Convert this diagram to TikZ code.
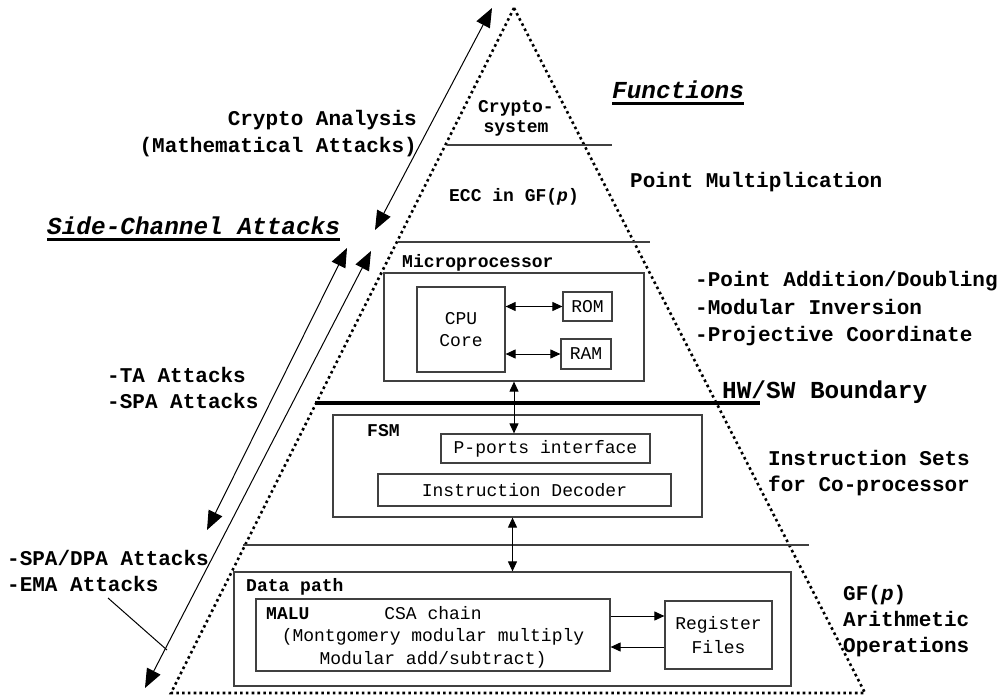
\documentclass[tikz,border=0pt]{standalone}
\usepackage{fontspec}
\setmonofont{Liberation Mono}
\usetikzlibrary{arrows.meta}
\newcommand\myBig{\fontsize{21}{27}\selectfont\ttfamily\bfseries}
\newcommand\myHuge{\fontsize{24.4}{30}\selectfont\ttfamily\bfseries}
\newcommand\myMid{\fontsize{18}{20}\selectfont\ttfamily\bfseries}
\newcommand\myReg{\fontsize{18}{22.5}\selectfont\ttfamily}
\begin{document}
\begin{tikzpicture}[x=1pt,y=-1pt,
  big/.style={inner sep=0pt,font=\myBig,anchor=base west},
  huge/.style={inner sep=0pt,font=\myHuge,anchor=base west},
  mid/.style={inner sep=0pt,font=\myMid,anchor=base west},
  box/.style={draw=black!75,line width=1.2pt,inner sep=0pt,font=\myReg,align=center},
  layer/.style={draw=black!75,line width=1.2pt},
  dotline/.style={line width=2.6pt,dash pattern=on 2.6pt off 3.2pt},
  bigarr/.style={line width=1pt,{Triangle[length=19pt,width=15pt]}-{Triangle[length=19pt,width=15pt]}},
  smallarr/.style={line width=1pt,{Triangle[length=10pt,width=9pt]}-{Triangle[length=10pt,width=9pt]}},
  onearr/.style={line width=1pt,-{Triangle[length=10pt,width=9pt]}},
  uline/.style={line width=3pt}]
\useasboundingbox (0,0) rectangle (1004,695);

% pyramid
\coordinate (apex) at (514,8);
\coordinate (bl) at (171,693);
\coordinate (br) at (865,693);
\draw[dotline] (apex) -- (br) -- (bl) -- cycle;

% layer lines
\coordinate (l1a) at (447,145); \coordinate (l1b) at (612,145);
\coordinate (l2a) at (398,242); \coordinate (l2b) at (650,242);
\coordinate (l3a) at (315,403); \coordinate (l3b) at (760,403);
\coordinate (l4a) at (243,545); \coordinate (l4b) at (809,545);
\draw[layer] (l1a) -- (l1b);
\draw[layer] (l2a) -- (l2b);
\draw[line width=4.5pt] (l3a) -- (l3b);
\draw[layer] (l4a) -- (l4b);

% top layers
\node[inner sep=0pt,font=\myMid,align=center] (crypto) at (516,118) {Crypto-\\system};
\node[inner sep=0pt,font=\myMid,anchor=base] (ecc) at (514,202) {ECC in GF({\itshape p})};

% microprocessor
\node[box,minimum width=260pt,minimum height=108pt] (micro) at (514,327) {};
\node[mid] (microlbl) at (402,268) {Microprocessor};
\node[box,minimum width=88pt,minimum height=85pt] (cpu) at (461,329.5) {CPU\\Core};
\node[box,minimum width=49pt,minimum height=29pt] (rom) at (587.5,306.5) {ROM};
\node[box,minimum width=50pt,minimum height=30pt] (ram) at (586,354) {RAM};
\draw[smallarr] (cpu.east |- rom.west) -- (rom.west);
\draw[smallarr] (cpu.east |- ram.west) -- (ram.west);

% FSM
\node[box,minimum width=369pt,minimum height=102pt] (fsm) at (517.5,466) {};
\node[mid] (fsmlbl) at (367,436) {FSM};
\node[box,minimum width=209pt,minimum height=29pt] (pports) at (545.5,448.5) {P-ports interface};
\node[box,minimum width=293pt,minimum height=32pt] (instr) at (524.5,490) {Instruction Decoder};
\draw[smallarr] (micro.south) -- (micro.south |- pports.north);

% data path
\node[box,minimum width=557pt,minimum height=114pt] (dp) at (512.5,629) {};
\node[mid] (dplbl) at (246,591) {Data path};
\node[box,minimum width=354pt,minimum height=72pt] (malu) at (433,635) {};
\node[mid] (malulbl) at (266,619) {MALU};
\node[inner sep=0pt,font=\myReg,align=center] (malutxt) at (433,637) {CSA chain\\(Montgomery modular multiply\\Modular add/subtract)};
\node[box,minimum width=107pt,minimum height=68pt,font=\fontsize{18}{24}\selectfont\ttfamily] (reg) at (718.5,635) {Register\\Files};
\draw[onearr] (malu.east |- 0,616) -- (reg.west |- 0,616);
\draw[onearr] (reg.west |- 0,647) -- (malu.east |- 0,647);
\draw[smallarr] (dp.north |- fsm.south) -- (dp.north);

% right side labels
\node[huge,font=\myHuge\itshape] (fun) at (612,99) {Functions};
\draw[uline] ([yshift=-4.5pt]fun.base west) -- ([yshift=-4.5pt]fun.base east);
\node[big] (pm) at (630,188) {Point Multiplication};
\node[big] (pa1) at (695,286) {-Point Addition/Doubling};
\node[big] (pa2) at (695,314) {-Modular Inversion};
\node[big] (pa3) at (695,341) {-Projective Coordinate};
\node[huge] (hwsw) at (722,398) {HW/SW Boundary};
\node[big] (is1) at (768,465) {Instruction Sets};
\node[big] (is2) at (768,491) {for Co-processor};
\node[big] (gf1) at (843,600) {GF({\itshape p})};
\node[big] (gf2) at (843,626) {Arithmetic};
\node[big] (gf3) at (843,652) {Operations};

% left side labels
\node[big,anchor=base east] (ca1) at (417,126) {Crypto Analysis};
\node[big,anchor=base east] (ca2) at (417,153) {(Mathematical Attacks)};
\node[huge,font=\myHuge\itshape] (sca) at (47,235) {Side-Channel Attacks};
\draw[uline] ([yshift=-5pt]sca.base west) -- ([yshift=-5pt]sca.base east);
\node[big] (ta1) at (107,382) {-TA Attacks};
\node[big] (ta2) at (107,408) {-SPA Attacks};
\node[big] (dpa1) at (7,565) {-SPA/DPA Attacks};
\node[big] (dpa2) at (7,591) {-EMA Attacks};

% attack arrows
\coordinate (caTop) at (492,8);
\coordinate (caBot) at (375,230);
\draw[bigarr] (caBot) -- (caTop);
\coordinate (saTop) at (347,248);
\coordinate (saBot) at (207,530);
\draw[bigarr] (saBot) -- (saTop);
\coordinate (sbTop) at (371,251);
\coordinate (sbBot) at (145,688);
\draw[bigarr] (sbBot) -- (sbTop);
\coordinate (emaStart) at (108,598);
\coordinate (emaEnd) at (167,650);
\draw[line width=1pt] (emaStart) -- (emaEnd);
\end{tikzpicture}
\end{document}
